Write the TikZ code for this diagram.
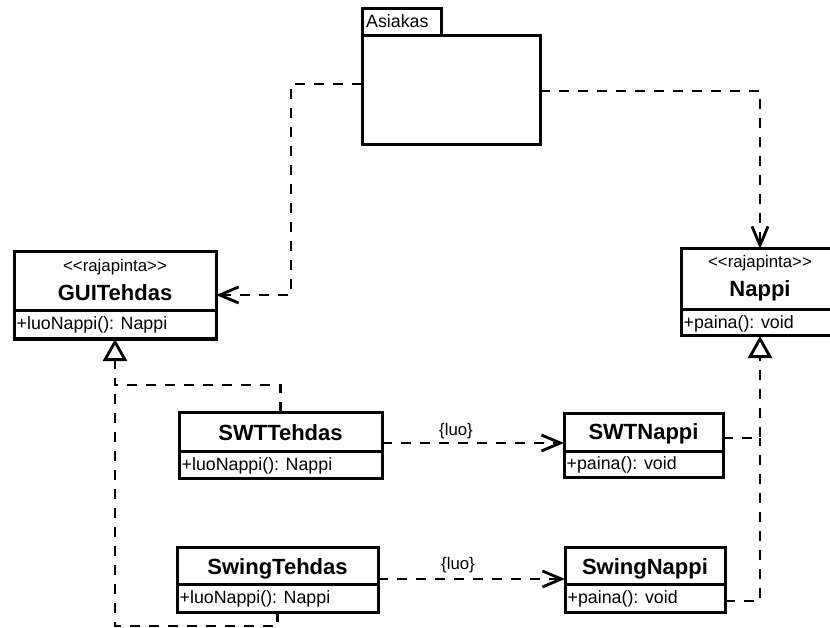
\documentclass[tikz,border=0pt]{standalone}
\usepackage{fontspec}
\setmainfont{Liberation Sans}
\usetikzlibrary{arrows.meta}

\tikzset{
  x=1pt, y=-1pt,
  frame/.style={draw, line width=3pt, inner sep=0pt, outer sep=0pt, anchor=north west},
  cname/.style={anchor=base, inner sep=0pt, font=\fontsize{22}{26}\selectfont\bfseries},
  stereo/.style={anchor=base, inner sep=0pt, font=\fontsize{16.8}{20}\selectfont},
  member/.style={anchor=base west, inner sep=0pt, font=\fontsize{17.8}{21}\selectfont},
  tag/.style={inner sep=0pt, font=\fontsize{16.8}{20}\selectfont},
  dashline/.style={line width=2.8pt, dash pattern=on 10pt off 9pt},
  dep/.style={dashline, -{Straight Barb[length=19pt, width=16pt]}},
  gen/.style={dashline, -{Triangle[open, length=22pt, width=24pt]}},
}
\newcommand{\stereotype}{<\kern0pt<rajapinta>\kern0pt>}

\begin{document}
\begin{tikzpicture}
\useasboundingbox (0,0) rectangle (830,628);
\clip (0,0) rectangle (830,628);

% package Asiakas
\node[frame, minimum width=79pt, minimum height=27pt] (tab) at (362,9) {};
\node[frame, minimum width=178pt, minimum height=109pt] (asiakas) at (362,36) {};
\node[anchor=base west, inner sep=0pt, font=\fontsize{17.8}{21}\selectfont] (asiakasT) at (366,28) {Asiakas};

% interface GUITehdas
\node[frame, minimum width=202pt, minimum height=59pt] (gui) at (14,252) {};
\node[frame, minimum width=202pt, minimum height=28pt] (guiA) at (gui.south west) {};
\node[stereo] (guiS) at ([yshift=-20pt]gui.north) {\stereotype};
\node[cname] (guiN) at ([yshift=-49pt]gui.north) {GUITehdas};
\node[member] (guiM) at ([xshift=2.5pt, yshift=-19pt]guiA.north west) {+luoNappi(): Nappi};

% interface Nappi
\node[frame, minimum width=158pt, minimum height=61pt] (nappi) at (681,249) {};
\node[frame, minimum width=158pt, minimum height=26pt] (nappiA) at (nappi.south west) {};
\node[stereo] (nappiS) at ([yshift=-19pt]nappi.north) {\stereotype};
\node[cname] (nappiN) at ([yshift=-48pt]nappi.north) {Nappi};
\node[member] (nappiM) at ([xshift=2.5pt, yshift=-18pt]nappiA.north west) {+paina(): void};

% class SWTTehdas
\node[frame, minimum width=203pt, minimum height=39pt] (swt) at (179,412) {};
\node[frame, minimum width=203pt, minimum height=27pt] (swtA) at (swt.south west) {};
\node[cname] (swtN) at ([yshift=-28pt]swt.north) {SWTTehdas};
\node[member] (swtM) at ([xshift=2.5pt, yshift=-19pt]swtA.north west) {+luoNappi(): Nappi};

% class SWTNappi
\node[frame, minimum width=159pt, minimum height=38pt] (swtn) at (564,413) {};
\node[frame, minimum width=159pt, minimum height=26pt] (swtnA) at (swtn.south west) {};
\node[cname] (swtnN) at ([yshift=-26pt]swtn.north) {SWTNappi};
\node[member] (swtnM) at ([xshift=2.5pt, yshift=-18pt]swtnA.north west) {+paina(): void};

% class SwingTehdas
\node[frame, minimum width=201pt, minimum height=37pt] (swing) at (177,547) {};
\node[frame, minimum width=201pt, minimum height=28pt] (swingA) at (swing.south west) {};
\node[cname] (swingN) at ([yshift=-27pt]swing.north) {SwingTehdas};
\node[member] (swingM) at ([xshift=2.5pt, yshift=-19pt]swingA.north west) {+luoNappi(): Nappi};

% class SwingNappi
\node[frame, minimum width=160pt, minimum height=37pt] (swingn) at (565,547) {};
\node[frame, minimum width=160pt, minimum height=28pt] (swingnA) at (swingn.south west) {};
\node[cname] (swingnN) at ([yshift=-27pt]swingn.north) {SwingNappi};
\node[member] (swingnM) at ([xshift=2.5pt, yshift=-19pt]swingnA.north west) {+paina(): void};

% dependencies of the client
\draw[dep] ([yshift=6.5pt]asiakas.west) -- ++(-71,0) |- ([yshift=-13.5pt]gui.east);
\draw[dep] ([yshift=-0.5pt]asiakas.east) -| (nappi.north);

% creation dependencies
\draw[dep] ([yshift=-11.5pt]swt.east) -- ([yshift=-11.5pt]swt.east -| swtn.west);
\node[tag] (luo1) at (456,431) {\{luo\}};
\draw[dep] ([yshift=-13.5pt]swing.east) -- ([yshift=-13.5pt]swing.east -| swingn.west);
\node[tag] (luo2) at (458,565) {\{luo\}};

% realisations of GUITehdas
\coordinate (jl) at (115,385);
\draw[gen] (swt.north) -- ++(0,-27) -| (guiA.south);
\draw[dashline] (swingA.south) -- ++(0,14) -| (jl);

% realisations of Nappi
\coordinate (jr) at (760,438);
\draw[gen] ([yshift=-6pt]swtn.east) -| (nappiA.south);
\draw[dashline] ([yshift=-3pt]swingnA.east) -| (jr);
\end{tikzpicture}
\end{document}
